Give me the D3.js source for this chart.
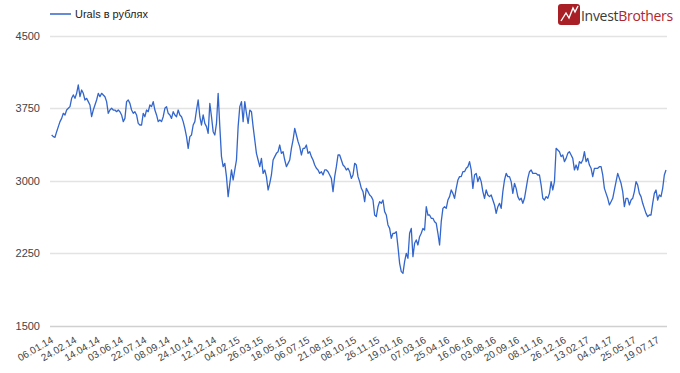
<!DOCTYPE html>
<html>
<head>
<meta charset="utf-8">
<script src="https://cdn.jsdelivr.net/npm/d3@7"></script>
<style>
    body { margin: 0; background: #fff; }
    #chart text { font-family: "Liberation Sans", Arial, sans-serif; }
</style>
</head>
<body>
<div id="chart"></div>
<script>
// Urals в рублях, sampled roughly every 2-3 trading days
const values = [
    3471, 3454, 3447, 3505, 3557, 3609, 3643, 3695, 3678, 3729, 3747, 3764, 3850, 3885, 3850, 3902, 3988, 3867, 3936, 3902,
    3833, 3850, 3816, 3781, 3660, 3729, 3781, 3833, 3902, 3867, 3902, 3885, 3867, 3816, 3695, 3729, 3747, 3729, 3729, 3712,
    3729, 3712, 3678, 3609, 3643, 3816, 3833, 3798, 3729, 3695, 3712, 3678, 3591, 3574, 3574, 3695, 3660, 3729, 3712, 3781,
    3764, 3816, 3729, 3678, 3609, 3626, 3609, 3660, 3747, 3764, 3695, 3678, 3643, 3712, 3678, 3660, 3729, 3678, 3660, 3609,
    3540, 3454, 3333, 3454, 3471, 3574, 3609, 3729, 3833, 3660, 3574, 3678, 3591, 3557, 3488, 3798, 3660, 3505, 3471, 3591,
    3902, 3557, 3247, 3143, 3177, 3040, 2833, 2971, 3109, 3005, 3109, 3212, 3557, 3764, 3816, 3609, 3816, 3695, 3591, 3729,
    3712, 3557, 3419, 3281, 3212, 3143, 3229, 3074, 3109, 3040, 2902, 2971, 3057, 3212, 3247, 3281, 3298, 3367, 3281, 3298,
    3212, 3143, 3177, 3212, 3333, 3419, 3540, 3471, 3402, 3350, 3264, 3333, 3333, 3367, 3281, 3298, 3247, 3212, 3160, 3126,
    3109, 3074, 3091, 3057, 3109, 3109, 3091, 3057, 3022, 2885, 3040, 3143, 3264,
    3264, 3212, 3160, 3143, 3109, 3126, 3091, 3022, 3057, 3178, 3160, 3040, 2988, 2919, 2885, 2781, 2919, 2885, 2850, 2833,
    2798, 2643, 2626, 2729, 2781, 2764, 2798, 2678, 2643, 2540, 2505, 2402, 2454, 2454, 2471, 2316, 2143, 2057, 2040, 2161,
    2247, 2195, 2454, 2505, 2212, 2350, 2385, 2333, 2419, 2454, 2505, 2488, 2729, 2643, 2643, 2609, 2609, 2574, 2557, 2454,
    2333, 2574, 2712, 2729, 2712, 2798, 2833, 2902, 2867, 2816, 2919, 3005, 3040, 3040, 3091, 3091, 3126, 3143, 3195, 3109,
    2919, 3057, 3074, 2988, 3040, 2988, 2885, 2816, 2902, 2850, 2833, 2850, 2798, 2747, 2660, 2729, 2764, 2712, 2885, 3005,
    3074, 3040, 3040, 2988, 2867, 2971, 2919, 2833, 2798, 2816, 2764, 2816, 2919, 3022, 3091, 3109, 3074, 3074, 3074, 3057,
    3057, 2953, 2816, 2798, 2833, 2816, 2867, 2988, 2902, 2988, 3333, 3316, 3298, 3247, 3264, 3195, 3229, 3281, 3298, 3264,
    3229, 3109, 3160, 3109, 3195, 3178, 3212, 3298, 3195, 3229, 3160, 3126, 3040, 3126, 3126, 3126, 3143, 3143, 3057, 2919,
    2867, 2816, 2747, 2781, 2816, 2902, 2988, 3074, 3022, 2971, 2885, 2729, 2816, 2816, 2747, 2798, 2816, 2885, 2988, 2953,
    2867, 2833, 2764, 2712, 2660, 2626, 2643, 2643, 2764, 2867, 2902, 2798, 2850, 2833, 2919, 3057, 3109
];

const dateLabels = [
    "06.01.14", "24.02.14", "14.04.14", "03.06.14", "22.07.14", "08.09.14", "24.10.14", "12.12.14", "04.02.15",
    "26.03.15", "18.05.15", "06.07.15", "21.08.15", "08.10.15", "26.11.15", "19.01.16", "07.03.16", "25.04.16",
    "16.06.16", "03.08.16", "20.09.16", "08.11.16", "26.12.16", "13.02.17", "04.04.17", "25.05.17", "19.07.17"
];
const samplesPerLabel = 14;

const yTicks = [1500, 2250, 3000, 3750, 4500];
const seriesName = "Urals в рублях";

let fullWidth = 680, fullHeight = 373;
let margin = { left: 50, right: 666, top: 35.5, bottom: 325.5 };

let svg = d3.select("#chart")
    .append("svg")
    .attr("width", fullWidth)
    .attr("height", fullHeight);

let x = d3.scaleLinear()
    .domain([0, values.length])
    .range([margin.left, margin.right]);

let y = d3.scaleLinear()
    .domain([1500, 4500])
    .range([margin.bottom, margin.top]);

// grid
svg.append("g")
    .selectAll("line")
    .data(yTicks)
    .enter()
    .append("line")
    .attr("x1", margin.left)
    .attr("x2", 667)
    .attr("y1", d => Math.round(y(d)) + 0.5)
    .attr("y2", d => Math.round(y(d)) + 0.5)
    .style("stroke", d => d === 1500 ? "#d0d0d0" : "#e3e3e3")
    .style("stroke-width", 1.3);

svg.append("g")
    .selectAll("text")
    .data(yTicks)
    .enter()
    .append("text")
    .attr("x", 40)
    .attr("y", d => y(d) + 4)
    .attr("text-anchor", "end")
    .style("font-size", "11px")
    .style("fill", "#444")
    .text(d => d);

// x labels, rotated
svg.append("g")
    .selectAll("text")
    .data(dateLabels)
    .enter()
    .append("text")
    .attr("transform", (d, i) => `translate(${x(i * samplesPerLabel) + 4},${342}) rotate(-30)`)
    .attr("text-anchor", "end")
    .style("font-size", "10px")
    .style("fill", "#444")
    .text(d => d);

// series line
let line = d3.line()
    .x((d, i) => x(i + 1))
    .y(d => y(d));

svg.append("path")
    .datum(values)
    .attr("d", line)
    .attr("fill", "none")
    .style("stroke", "#3366cc")
    .style("stroke-width", 1.3)
    .style("stroke-linejoin", "round");

// legend
svg.append("line")
    .attr("x1", 50).attr("x2", 71)
    .attr("y1", 14).attr("y2", 14)
    .style("stroke", "#3366cc")
    .style("stroke-width", 2)
    .style("opacity", 0.75);

svg.append("text")
    .attr("x", 75)
    .attr("y", 18)
    .style("font-size", "11px")
    .style("fill", "#222")
    .text(seriesName);

// logo
let logo = svg.append("g").attr("transform", "translate(558,4)");
logo.append("rect")
    .attr("width", 22).attr("height", 21)
    .attr("rx", 3)
    .style("fill", "#a81f26");
logo.append("path")
    .attr("d", "M3,17 L8,9 L11,14 L15,4 L17,8 L20,2")
    .attr("fill", "none")
    .style("stroke", "#fff")
    .style("stroke-width", 1.4);

let brand = svg.append("text")
    .attr("x", 581)
    .attr("y", 21)
    .style("font-family", "'Open Sans', sans-serif")
    .style("font-size", "14px")
    .style("letter-spacing", "-0.3px");
brand.append("tspan").style("fill", "#3a3a3a").text("Invest");
brand.append("tspan").style("fill", "#b0262c").text("Brothers");
</script>
</body>
</html>
